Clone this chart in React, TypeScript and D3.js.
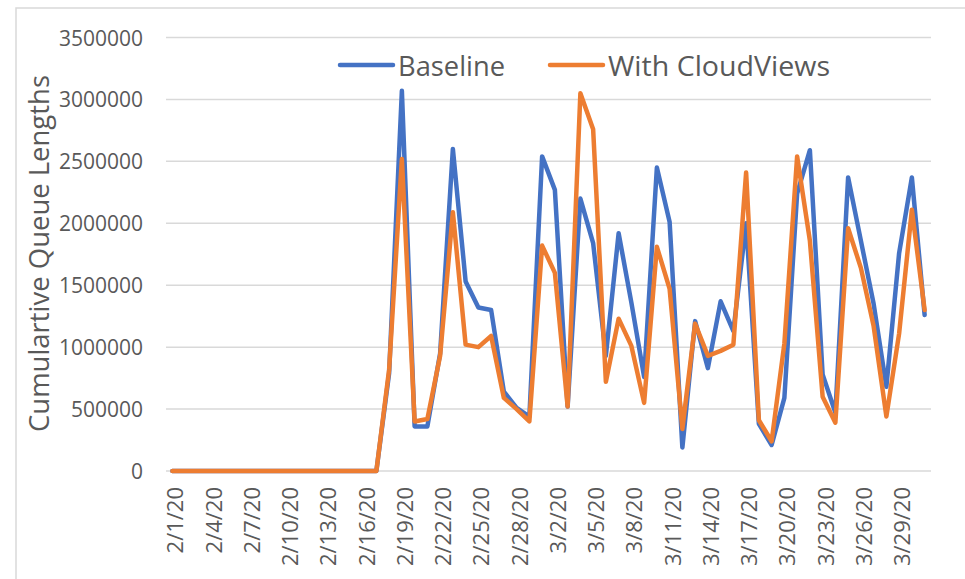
import React from "react";
import * as d3 from "d3";

const dates: string[] = (() => {
  const out: string[] = [];
  for (let d = 1; d <= 29; d++) out.push(`2/${d}/20`);
  for (let d = 1; d <= 31; d++) out.push(`3/${d}/20`);
  return out;
})();

const baseline: number[] = [
  0, 0, 0, 0, 0, 0, 0, 0, 0, 0, 0, 0, 0, 0, 0, 0,
  0, 790000, 3070000, 360000, 360000, 950000, 2600000, 1530000, 1320000, 1300000,
  640000, 510000, 440000, 2540000, 2270000, 520000, 2200000, 1840000, 930000, 1920000,
  1360000, 760000, 2450000, 2010000, 190000, 1210000, 830000, 1370000, 1130000, 2000000,
  380000, 210000, 590000, 2240000, 2590000, 780000, 470000, 2370000, 1860000, 1350000,
  680000, 1760000, 2370000, 1260000,
];

const cloudViews: number[] = [
  0, 0, 0, 0, 0, 0, 0, 0, 0, 0, 0, 0, 0, 0, 0, 0,
  0, 820000, 2520000, 400000, 420000, 930000, 2090000, 1020000, 1000000, 1090000,
  590000, 500000, 400000, 1820000, 1600000, 520000, 3050000, 2760000, 720000, 1230000,
  1010000, 550000, 1810000, 1470000, 340000, 1190000, 930000, 970000, 1020000, 2410000,
  410000, 240000, 1030000, 2540000, 1860000, 600000, 390000, 1960000, 1640000, 1170000,
  440000, 1110000, 2110000, 1300000,
];

const yTicks: number[] = [0, 500000, 1000000, 1500000, 2000000, 2500000, 3000000, 3500000];
const seriesNames: string[] = ["Baseline", "With CloudViews"];
const seriesColors: string[] = ["#4472C4", "#ED7D31"];

const FONT = "'Open Sans', 'Liberation Sans', sans-serif";
const TXT = "#595959";
const GRID = "#d9d9d9";

export default function App() {
  const W = 965, H = 579;
  const x = d3.scaleBand<number>().domain(dates.map((_, i) => i)).range([166, 931]).padding(0);
  const y = d3.scaleLinear().domain([0, 3500000]).range([471, 37.5]);
  const cx = (i: number) => (x(i) as number) + x.bandwidth() / 2;
  const line = d3.line<number>().x((_, i) => cx(i)).y((v) => y(v));
  const series = [baseline, cloudViews];

  return (
    <svg width={W} height={H} style={{ position: "absolute", left: 0, top: 0, background: "#fff" }}>
      <rect x={0} y={0} width={W} height={H} fill="#fff" />
      <rect x={16} y={8} width={W + 20} height={H + 20} fill="#fff" stroke={GRID} strokeWidth={1.5} />
      {yTicks.map((t) => (
        <g key={t}>
          <line x1={166} x2={931} y1={y(t)} y2={y(t)} stroke={GRID} strokeWidth={1.5} />
          <text x={143} y={y(t)} textAnchor="end" dominantBaseline="central" fontFamily={FONT} fontSize={21} fill={TXT}>
            {t}
          </text>
        </g>
      ))}
      {dates.map((d, i) =>
        i % 3 === 0 ? (
          <text
            key={d}
            transform={`translate(${cx(i) + 2},487) rotate(-90)`}
            textAnchor="end"
            dominantBaseline="central"
            fontFamily={FONT}
            fontSize={22}
            fill={TXT}
          >
            {d}
          </text>
        ) : null
      )}
      <text
        transform="translate(38,253.5) rotate(-90)"
        textAnchor="middle"
        dominantBaseline="central"
        fontFamily={FONT}
        fontSize={27}
        fill={TXT}
        textLength={357}
        lengthAdjust="spacingAndGlyphs"
      >
        Cumulartive Queue Lengths
      </text>
      {series.map((s, k) => (
        <path
          key={k}
          d={line(s) || ""}
          fill="none"
          stroke={seriesColors[k]}
          strokeWidth={4.5}
          strokeLinejoin="round"
          strokeLinecap="round"
        />
      ))}
      {seriesNames.map((n, k) => {
        const lx = k === 0 ? 340 : 550;
        const tl = k === 0 ? 107 : 222;
        return (
          <g key={n}>
            <line x1={lx} x2={lx + 53} y1={65} y2={65} stroke={seriesColors[k]} strokeWidth={4.5} strokeLinecap="round" />
            <text
              x={lx + 58}
              y={65}
              dominantBaseline="central"
              fontFamily={FONT}
              fontSize={28}
              fill={TXT}
              textLength={tl}
              lengthAdjust="spacingAndGlyphs"
            >
              {n}
            </text>
          </g>
        );
      })}
    </svg>
  );
}
